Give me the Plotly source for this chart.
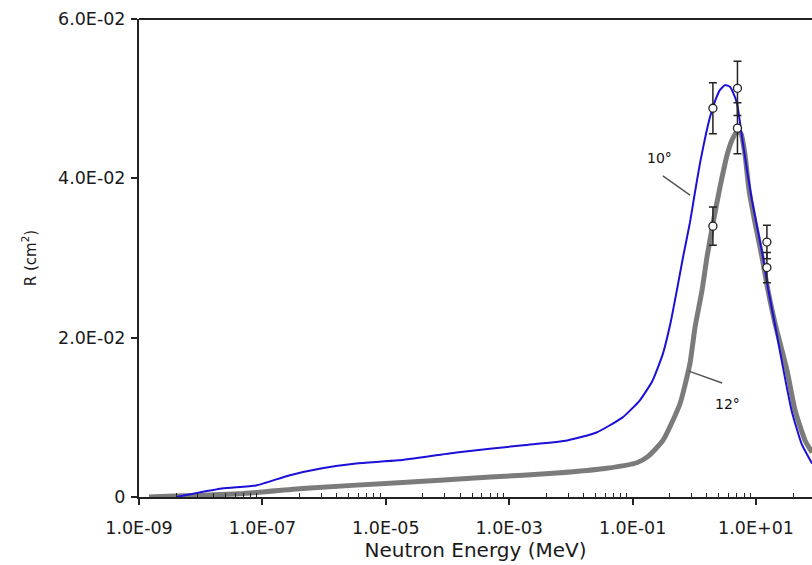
import plotly.graph_objects as go

# ---- data ----
e10 = [4.0e-9, 2.2e-8, 7.9e-8, 2.7e-7, 9.3e-7, 3.3e-6, 1.6e-5, 1.4e-4, 1.7e-3, 8.7e-3,
       0.026, 0.069, 0.13, 0.21, 0.31, 0.41, 0.52, 0.656, 0.851, 1.026, 1.236, 1.489, 1.795,
       2.163, 2.606, 3.141, 3.784, 4.236, 4.920, 5.929, 7.145, 8.610, 12.97, 15.63, 20.32,
       27.42, 37.58, 54.58, 80.9]
r10 = [0.0, 0.00107, 0.00145, 0.0027, 0.0036, 0.0042, 0.0046, 0.0056, 0.0065, 0.0071,
       0.0081, 0.0100, 0.0121, 0.0146, 0.0180, 0.0218, 0.0259, 0.0301, 0.0345, 0.0383, 0.0419, 0.0450, 0.0477,
       0.0497, 0.0511, 0.0517, 0.0515, 0.0508, 0.0494, 0.0452, 0.0410, 0.0372, 0.0301, 0.0262, 0.0216,
       0.0162, 0.0109, 0.0067, 0.0042]

e12 = [1.45e-9, 4.2e-8, 5.1e-7, 1.6e-5, 4.9e-4, 5.9e-3, 0.038, 0.117, 0.178, 0.310,
       0.586, 0.851, 1.026, 1.330, 1.603, 2.009, 2.606, 3.388, 4.083, 4.920, 5.715, 6.637, 7.709,
       9.638, 12.50, 15.63, 20.32, 31.77, 42.85, 62.23, 80.9]
r12 = [0.0, 0.0004, 0.0011, 0.0018, 0.0025, 0.0030, 0.0036, 0.0043, 0.0051, 0.0071,
       0.0117, 0.0168, 0.0213, 0.0259, 0.0301, 0.0344, 0.0389, 0.0429, 0.0448, 0.0459, 0.0456, 0.0429, 0.0385,
       0.0344, 0.0301, 0.0259, 0.0218, 0.0159, 0.0109, 0.0071, 0.0056]

meas_e = [2.0, 5.0, 15.0]
meas10 = [0.0488, 0.0513, 0.0320]
err10 = [0.0032, 0.0034, 0.0021]
meas12 = [0.0340, 0.0463, 0.0288]
err12 = [0.0024, 0.0032, 0.0019]

xtick_vals = [1e-9, 1e-7, 1e-5, 1e-3, 1e-1, 1e1]
xtick_text = ["1.0E-09", "1.0E-07", "1.0E-05", "1.0E-03", "1.0E-01", "1.0E+01"]
ytick_vals = [0, 0.02, 0.04, 0.06]
ytick_text = ["0", "2.0E-02", "4.0E-02", "6.0E-02"]

# minor ticks: 2-decade major unit, minor at base * k^2 (k = 2..9)
minor_vals = [b * k * k for b in [1e-9, 1e-7, 1e-5, 1e-3, 1e-1, 1e1] for k in range(2, 10)]

FONT = "DejaVu Sans"
AX = "#222222"

fig = go.Figure()
fig.add_trace(go.Scatter(x=e12, y=r12, mode="lines",
                         line=dict(color="#7b7b7b", width=5, shape="spline", smoothing=0.5),
                         showlegend=False, hoverinfo="skip"))
fig.add_trace(go.Scatter(x=e10, y=r10, mode="lines",
                         line=dict(color="#1c10d8", width=2, shape="spline", smoothing=0.5),
                         showlegend=False, hoverinfo="skip"))
for ys, es in [(meas10, err10), (meas12, err12)]:
    fig.add_trace(go.Scatter(x=meas_e, y=ys, mode="markers",
                             marker=dict(symbol="circle", size=8, color="white",
                                         line=dict(color="#222222", width=1.3)),
                             error_y=dict(type="data", array=es, visible=True,
                                          color="#222222", thickness=1.5, width=4),
                             showlegend=False))

# labels (annotation x in log10 units) and leader lines (shape x in data units)
fig.add_annotation(x=-0.56, y=0.0425, xref="x", yref="y", text="10°", showarrow=False,
                   font=dict(family=FONT, size=14, color="#111"))
fig.add_annotation(x=0.53, y=0.0117, xref="x", yref="y", text="12°", showarrow=False,
                   font=dict(family=FONT, size=14, color="#111"))
fig.add_shape(type="line", xref="x", yref="y", x0=0.309, y0=0.0403, x1=0.851, y1=0.0379,
              line=dict(color="#555", width=1.5))
fig.add_shape(type="line", xref="x", yref="y", x0=0.813, y0=0.0158, x1=2.82, y1=0.0143,
              line=dict(color="#555", width=1.5))
# top border
fig.add_shape(type="line", xref="paper", yref="paper", x0=0, y0=1, x1=1, y1=1,
              line=dict(color=AX, width=2))

fig.update_layout(
    width=812, height=565,
    margin=dict(l=139, r=0, t=19, b=68),
    paper_bgcolor="white", plot_bgcolor="white",
    font=dict(family=FONT, color=AX),
    xaxis=dict(type="log", range=[-9, 1.907], automargin=False,
               tickmode="array", tickvals=xtick_vals, ticktext=xtick_text,
               ticks="outside", ticklen=6, tickwidth=1.5, tickcolor=AX,
               showline=True, linecolor=AX, linewidth=2, showgrid=False, zeroline=False,
               tickfont=dict(family=FONT, size=17.5, color="#1a1a1a"),
               ticklabelstandoff=8,
               minor=dict(tickmode="array", tickvals=minor_vals, ticks="inside",
                          ticklen=4, tickwidth=1, tickcolor=AX, showgrid=False),
               title=dict(text="Neutron Energy (MeV)", standoff=0,
                          font=dict(family=FONT, size=20, color="#1a1a1a"))),
    yaxis=dict(range=[0, 0.06], automargin=False,
               tickmode="array", tickvals=ytick_vals, ticktext=ytick_text,
               ticks="outside", ticklen=6, tickwidth=1.5, tickcolor=AX,
               showline=True, linecolor=AX, linewidth=2, showgrid=False, zeroline=False,
               tickfont=dict(family=FONT, size=17.5, color="#1a1a1a"),
               ticklabelstandoff=2,
               title=dict(text="R (cm<sup>2</sup>)", standoff=18,
                          font=dict(family=FONT, size=15, color="#1a1a1a"))),
)

# remove the default page margin so the figure fills the window exactly
fig.write_html("out.html", config={"displayModeBar": False},
               post_script="document.body.style.margin='0';document.body.style.overflow='hidden';")
